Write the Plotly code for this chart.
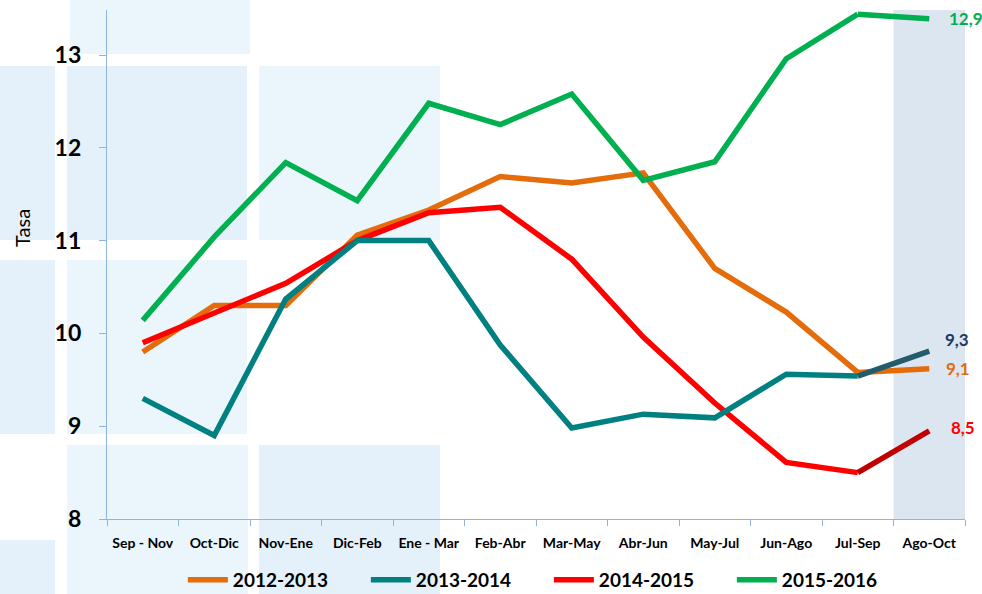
import plotly.graph_objects as go

categories = ["Sep - Nov", "Oct-Dic", "Nov-Ene", "Dic-Feb", "Ene - Mar", "Feb-Abr",
              "Mar-May", "Abr-Jun", "May-Jul", "Jun-Ago", "Jul-Sep", "Ago-Oct"]

s_2012_2013 = [9.80, 10.30, 10.30, 11.06, 11.33, 11.69, 11.62, 11.73, 10.70, 10.23, 9.58, 9.62]
s_2013_2014 = [9.30, 8.90, 10.37, 11.00, 11.00, 9.875, 8.98, 9.13, 9.09, 9.56, 9.54, 9.81]
s_2014_2015 = [9.90, 10.22, 10.54, 11.00, 11.30, 11.36, 10.80, 9.96, 9.25, 8.61, 8.50, 8.95]
s_2015_2016 = [10.14, 11.04, 11.84, 11.43, 12.48, 12.25, 12.58, 11.65, 11.85, 12.96, 13.44, 13.39]

series_names = ["2012-2013", "2013-2014", "2014-2015", "2015-2016"]
end_labels = ["9,1", "9,3", "8,5", "12,9"]

y_tickvals = [8, 9, 10, 11, 12, 13]
y_ticktext = ["8", "9", "10", "11", "12", "13"]

FONT = "Lato"

main_colors = {"2012-2013": "#e46c0a", "2013-2014": "#008080",
               "2014-2015": "#ff0000", "2015-2016": "#00b050"}
last_colors = {"2012-2013": "#e46c0a", "2013-2014": "#245c6c",
               "2014-2015": "#c00000", "2015-2016": "#00b050"}
label_colors = {"2012-2013": "#e46c0a", "2013-2014": "#1f3864",
                "2014-2015": "#ff0000", "2015-2016": "#00b050"}
label_shift = {"2012-2013": (15, 0), "2013-2014": (14, 12),
               "2014-2015": (20, 3), "2015-2016": (18, 0)}

data = {"2012-2013": s_2012_2013, "2013-2014": s_2013_2014,
        "2014-2015": s_2014_2015, "2015-2016": s_2015_2016}

fig = go.Figure()
draw_order = ["2012-2013", "2014-2015", "2013-2014", "2015-2016"]
for name in draw_order:
    vals = data[name]
    fig.add_trace(go.Scatter(
        x=categories[:-1], y=vals[:-1], mode="lines", name="<b>%s</b>" % name,
        line=dict(color=main_colors[name], width=5.5),
        legendrank=series_names.index(name) + 1,
        hoverinfo="skip"))
    fig.add_trace(go.Scatter(
        x=categories[-2:], y=vals[-2:], mode="lines", showlegend=False,
        line=dict(color=last_colors[name], width=5.5), hoverinfo="skip"))

for name, lab in zip(series_names, end_labels):
    dx, dy = label_shift[name]
    fig.add_annotation(x=categories[-1], y=data[name][-1], text="<b>%s</b>" % lab,
                       showarrow=False, xanchor="left", yanchor="middle",
                       xshift=dx, yshift=dy,
                       font=dict(family=FONT, size=17, color=label_colors[name]))

# plot area in pixels: x 107..965, y 10..519
def px(xp):
    return (xp - 107) / 858.0

def py(yp):
    return (519 - yp) / 509.0

deco_dark = "#e4f1fa"
deco_light = "#ebf5fc"
rects = [
    (70, 0, 250, 54, deco_light),
    (0, 66, 55, 240, deco_dark),
    (67, 66, 247, 240, deco_dark),
    (259, 66, 440, 240, deco_light),
    (0, 260, 55, 434, deco_dark),
    (67, 260, 247, 434, deco_light),
    (67, 445, 248, 594, deco_light),
    (259, 445, 440, 594, deco_dark),
    (0, 540, 55, 594, deco_dark),
]
for x0, y0, x1, y1, c in rects:
    fig.add_shape(type="rect", xref="paper", yref="paper",
                  x0=px(x0), x1=px(x1), y0=py(y1), y1=py(y0),
                  fillcolor=c, line=dict(width=0), layer="below")

fig.add_shape(type="rect", xref="x", yref="paper", x0=10.5, x1=11.5, y0=0, y1=1,
              fillcolor="#dce6f1", line=dict(width=0), layer="below")

fig.add_annotation(text="Tasa", xref="paper", yref="paper", x=px(22), y=py(228),
                   showarrow=False, textangle=-90, xanchor="center", yanchor="middle",
                   font=dict(family=FONT, size=20, color="#000000"))

fig.update_layout(
    width=982, height=594,
    margin=dict(l=107, r=17, t=10, b=75, autoexpand=False),
    paper_bgcolor="rgba(0,0,0,0)", plot_bgcolor="rgba(0,0,0,0)",
    showlegend=True,
    legend=dict(orientation="h", x=0.515, xanchor="center", y=py(580), yanchor="middle",
                font=dict(family=FONT, size=19, color="#000000"),
                entrywidth=128, itemwidth=40, bgcolor="rgba(0,0,0,0)",
                traceorder="normal"),
    xaxis=dict(type="category", categoryorder="array", categoryarray=categories,
               range=[-0.5, 11.5], showgrid=False, showline=True,
               linecolor="#8eb4e3", linewidth=1.3, ticks="outside", ticklen=6,
               tickcolor="#8eb4e3", tickson="boundaries", ticklabelstandoff=11,
               tickangle=0,
               tickfont=dict(family=FONT, size=14, color="#000000"),
               tickprefix="<b>", ticksuffix="</b>", zeroline=False),
    yaxis=dict(range=[8, 13.485], tickvals=y_tickvals, ticktext=["<b>%s</b>" % t for t in y_ticktext],
               showgrid=False, showline=True, linecolor="#8eb4e3", linewidth=1.3,
               ticks="outside", ticklen=7, tickcolor="#8eb4e3",
               ticklabelstandoff=13,
               tickfont=dict(family=FONT, size=23, color="#000000"), zeroline=False),
)

fig.write_html("out.html", config={"displayModeBar": False},
               post_script="document.body.style.margin='0px';document.body.style.overflow='hidden';")
